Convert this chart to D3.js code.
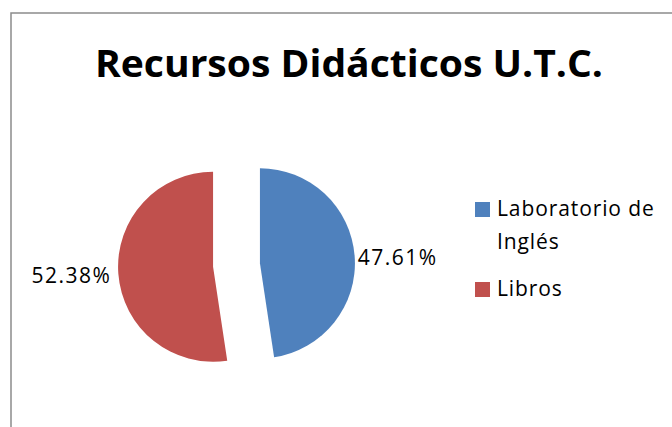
<!DOCTYPE html>
<html>
<head>
<meta charset="utf-8">
<script src="https://cdn.jsdelivr.net/npm/d3@7"></script>
<style>
  body { margin: 0; background: #fff; }
  text { font-family: "Open Sans", Carlito, Calibri, sans-serif; }
</style>
</head>
<body>
<div id="chart"></div>
<script>
const categories = ['Laboratorio de Inglés', 'Libros'];
const legendLines = [['Laboratorio de', 'Inglés'], ['Libros']];
const values = [47.61, 52.38];
const colors = ['#4f81bd', '#c0504d'];
const title = 'Recursos Didácticos U.T.C.';

const width = 672, height = 427;
const svg = d3.select('#chart').append('svg')
  .attr('width', width)
  .attr('height', height);

svg.append('rect')
  .attr('x', 11).attr('y', 13)
  .attr('width', 680).attr('height', 440)
  .attr('fill', '#fff')
  .attr('stroke', '#8c8c8c')
  .attr('stroke-width', 1.5);

svg.append('text')
  .attr('x', 95).attr('y', 77)
  .attr('textLength', 508)
  .attr('lengthAdjust', 'spacingAndGlyphs')
  .style('font-size', '38px')
  .style('font-weight', 'bold')
  .attr('fill', '#000')
  .text(title);

// pie
const cx = 236.5, cy = 265, r = 95, explode = 23.5;
const pie = d3.pie().sort(null).value(d => d)(values);
const arc = d3.arc().innerRadius(0).outerRadius(r);
const fmt = d3.format('.2f');
const mid = d => (d.startAngle + d.endAngle) / 2;

const g = svg.append('g').attr('transform', 'translate(' + cx + ',' + cy + ')');

const slices = g.selectAll('.slice')
  .data(pie)
  .enter().append('g')
  .attr('class', 'slice')
  .attr('transform', d => 'translate(' + (Math.sin(mid(d)) * explode) + ',' + (-Math.cos(mid(d)) * explode) + ')');

slices.append('path')
  .attr('d', arc)
  .attr('fill', (d, i) => colors[i]);

// labels sit just outside the slice, right side starts, left side ends
slices.append('text')
  .attr('x', d => {
    const pad = Math.sin(mid(d)) > 0 ? 3 : 7;
    return Math.sin(mid(d)) * (r + pad);
  })
  .attr('y', d => -Math.cos(mid(d)) * (r + 3))
  .attr('dy', '0.42em')
  .attr('text-anchor', d => Math.sin(mid(d)) > 0 ? 'start' : 'end')
  .style('font-size', '21px')
  .style('letter-spacing', '1.5px')
  .attr('fill', '#000')
  .text(d => fmt(d.value) + '%');

// legend
const legendY = [202, 282];
const legend = svg.append('g');
categories.forEach((c, i) => {
  legend.append('rect')
    .attr('x', 475).attr('y', legendY[i])
    .attr('width', 15).attr('height', 15)
    .attr('fill', colors[i]);
  legendLines[i].forEach((line, j) => {
    legend.append('text')
      .attr('x', 497)
      .attr('y', legendY[i] + 14 + j * 33)
      .style('font-size', '21px')
      .style('letter-spacing', '0.9px')
      .attr('fill', '#000')
      .text(line);
  });
});
</script>
</body>
</html>
